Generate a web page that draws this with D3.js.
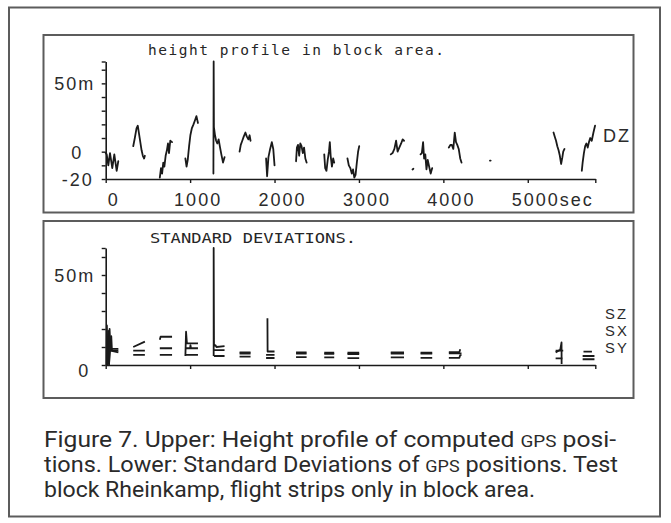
<!DOCTYPE html>
<html>
<head>
<meta charset="utf-8">
<script src="https://cdn.jsdelivr.net/npm/d3@7"></script>
<style>
  body { margin: 0; background: #fff; }
  svg { display: block; }
</style>
</head>
<body>
<svg id="fig" width="671" height="523"></svg>
<script>
// ---- data ----------------------------------------------------------------
const timeTicks = [0, 1000, 2000, 3000, 4000, 5000];
const timeTickLabels = ["0", "1000", "2000", "3000", "4000", "5000sec"];
const heightTicks = [-20, -10, 0, 10, 20, 30, 40, 50, 60, 66];
const heightTickLabels = { "-20": "-20", "0": "0", "50": "50m" };
const sdTicks = [0, 10, 20, 30, 40, 50, 60, 65];
const sdTickLabels = { "0": "0", "50": "50m" };

// height differences DZ [sec, m]; null separates flight strips
const dzProfile = [
  [0,-1],[12,-2],[31,-10],[51,-1],[78,-12],[102,-2],[130,-14],[149,-7], null,
  [326,4],[345,10],[365,17],[380,19],[395,13],[410,7],[425,1],[440,-3],[455,-5],[464,-3], null,
  [641,-19],[655,-12],[668,-16],[682,-8],[695,-11],[710,-3],[725,1],[738,6],[750,-1],[765,8],[786,7], null,
  [944,-5],[958,-11],[972,-6],[988,4],[1003,12],[1020,17],[1040,20],[1058,23],[1075,26],[1093,21], null,
  [1276,-16],[1279,66],[1282,18],[1295,12],[1308,8],[1322,6],[1338,9],[1355,3],[1370,-2],[1390,-8],[1408,-4], null,
  [1586,0],[1600,5],[1618,8],[1635,11],[1655,14],[1672,11],[1690,9],[1705,12],[1716,8], null,
  [1900,-5],[1912,-18],[1928,-4],[1948,2],[1968,7],[1985,2],[2000,-10], null,
  [2255,-7],[2265,3],[2278,5],[2292,-3],[2305,6],[2320,4],[2335,-1],[2350,3],[2365,-5],[2380,-8], null,
  [2589,-2],[2600,-12],[2615,-14],[2630,-6],[2645,0],[2655,7],[2665,-3],[2680,-11],[2695,-5],[2707,-8], null,
  [2864,-5],[2880,-10],[2898,-12],[2915,-16],[2930,-13],[2945,-19],[2960,-17],[2975,-8],[2990,0],[3003,4], null,
  [3377,-2],[3398,-1],[3420,2],[3440,8],[3458,0],[3478,3],[3500,6],[3518,9],[3534,8], null,
  [3635,-13],[3645,-12.5], null,
  [3730,-2],[3745,-1],[3760,7],[3772,-5],[3786,-2],[3800,-13],[3815,-6],[3832,-11],[3850,-16],[3868,-12], null,
  [4065,3],[4085,5],[4100,5],[4118,2],[4135,14],[4150,7],[4165,5],[4182,2],[4200,-5],[4215,-8], null,
  [4552,-6.5],[4560,-6.6], null,
  [5305,14],[5320,11],[5335,8],[5350,4],[5365,1],[5380,-3],[5395,-9],[5410,-4],[5420,0],[5435,2], null,
  [5640,-14],[5650,-8],[5665,-1],[5680,4],[5695,6],[5710,3],[5725,7],[5740,10],[5758,8],[5778,14],[5797,19]
];

// standard deviations [sec, m]
const szSeries = [
  [10,0],[14,22],[22,2],[46,20],[56,9],[150,9], null,
  [326,10],[464,13], null,
  [641,14],[650,15.7],[786,15.7], null,
  [944,5],[952,18.5],[962,12],[1093,12], null,
  [1279,5],[1279,65],[1283,10.5],[1300,11],[1312,10],[1408,10.5], null,
  [1586,7],[1716,7], null,
  [1916,26],[1918,7.5],[2000,7.5], null,
  [2255,7],[2380,7], null,
  [2589,6.8],[2707,6.8], null,
  [2864,6.8],[3003,6.8], null,
  [3377,7],[3534,7], null,
  [3730,6.9],[3868,6.9], null,
  [4065,7.2],[4190,7.2],[4200,8.8], null,
  [5330,7],[5385,8.5],[5400,12.5],[5401,0.5], null,
  [5660,7.4],[5760,7.4]
];
const sxSeries = [
  [24,0],[30,19],[40,1],[66,16],[74,8],[150,8], null,
  [326,8],[464,8], null,
  [641,9.3],[786,9.3], null,
  [944,9.3],[1000,9.3],[1004,11],[1010,9.3],[1093,9.3], null,
  [1282,8.3],[1408,8.3], null,
  [1586,6.4],[1716,6.4], null,
  [1900,5.6],[2000,5.6], null,
  [2255,6.3],[2380,6.3], null,
  [2589,6.2],[2707,6.2], null,
  [2864,6.1],[3003,6.1], null,
  [3377,6.4],[3534,6.4], null,
  [3730,6.3],[3868,6.3], null,
  [4065,6.5],[4215,6.5], null,
  [5330,8],[5420,8], null,
  [5650,5],[5790,5]
];
const sySeries = [
  [40,0],[46,16],[60,8],[150,7], null,
  [326,5.6],[464,5.6], null,
  [641,5.6],[786,5.6], null,
  [944,5.6],[1093,5.6], null,
  [1282,5],[1408,5], null,
  [1586,4.6],[1716,4.6], null,
  [1900,3.9],[2000,3.9], null,
  [2255,4.4],[2380,4.4], null,
  [2589,4.2],[2707,4.2], null,
  [2864,3.8],[3003,3.8], null,
  [3377,4.2],[3534,4.2], null,
  [3730,4.0],[3868,4.0], null,
  [4065,4],[4190,4],[4200,5.5],[4215,5.5], null,
  [5330,3.7],[5410,3.7], null,
  [5650,3.2],[5790,3.2]
];

const captionLines = [
  [["Figure 7. Upper: Height profile of computed ", false], ["GPS", true], [" posi-", false]],
  [["tions. Lower: Standard Deviations of ", false], ["GPS", true], [" positions. Test", false]],
  [["block Rheinkamp, flight strips only in block area.", false]]
];

// ---- drawing -------------------------------------------------------------
const svg = d3.select("#fig");
const ink = "#1a1a1a";
const frameColor = "#5c5c5c";
const plotFont = "'Liberation Sans', Arial, sans-serif";
const monoFont = "'DejaVu Sans Mono', monospace";

// outer frame and the two plot panels
svg.append("rect").attr("x", 9).attr("y", 7.5).attr("width", 651).attr("height", 509)
  .attr("fill", "none").attr("stroke", frameColor).attr("stroke-width", 2);
[[35, 212.5], [221, 398]].forEach(([top, bottom]) => {
  svg.append("rect").attr("x", 43.5).attr("y", top).attr("width", 590).attr("height", bottom - top)
    .attr("fill", "none").attr("stroke", frameColor).attr("stroke-width", 2);
});

const x = d3.scaleLinear().domain([0, 5800]).range([105.7, 595.3]);
const yTop = d3.scaleLinear().domain([-20, 66]).range([179, 61.5]);
const yBot = d3.scaleLinear().domain([0, 65]).range([365, 248]);

function styleAxis(g) {
  g.selectAll("path.domain").attr("stroke", ink).attr("stroke-width", 1.6);
  g.selectAll(".tick line").attr("stroke", ink).attr("stroke-width", 1.4);
  g.selectAll("text").attr("font-family", plotFont).attr("font-size", 18)
    .attr("letter-spacing", 2).attr("fill", "#2b2b2b");
}

function drawPanel(yScale, ticks, tickLabels, labelShift, zeroDy) {
  const gy = svg.append("g").attr("transform", `translate(${x(0)},0)`)
    .call(d3.axisLeft(yScale).tickValues(ticks).tickSize(4).tickSizeOuter(0)
      .tickFormat(d => tickLabels[d] || ""));
  styleAxis(gy);
  gy.selectAll(".tick text")
    .attr("x", d => labelShift[d] !== undefined ? labelShift[d] : -10)
    .attr("dy", d => d === 0 ? zeroDy : "0.36em");

  const gx = svg.append("g").attr("transform", `translate(0,${yScale.range()[0]})`)
    .call(d3.axisBottom(x).tickValues(timeTicks.concat([5800])).tickSize(4).tickSizeOuter(0)
      .tickFormat(""));
  styleAxis(gx);
  return gx;
}

// upper panel: height profile
drawPanel(yTop, heightTicks, heightTickLabels, { "50": -10.5, "0": -22.5, "-20": -12 }, "0.36em");
timeTicks.forEach((t, i) => {
  const lbl = timeTickLabels[i];
  const digits = lbl.replace("sec", "").length;
  svg.append("text")
    .attr("x", x(t) + 8 - digits * 12 / 2)
    .attr("y", 205.5)
    .attr("font-family", plotFont).attr("font-size", 18).attr("letter-spacing", 2)
    .attr("fill", "#2b2b2b")
    .text(lbl);
});

// lower panel: standard deviations
drawPanel(yBot, sdTicks, sdTickLabels, { "50": -10.5, "0": -15.5 }, "0.65em");

const lineTop = d3.line().defined(d => d !== null).x(d => x(d[0])).y(d => yTop(d[1]));
const lineBot = d3.line().defined(d => d !== null).x(d => x(d[0])).y(d => yBot(d[1]));

svg.append("path").attr("d", lineTop(dzProfile))
  .attr("fill", "none").attr("stroke", ink).attr("stroke-width", 1.8)
  .attr("stroke-linejoin", "round").attr("stroke-linecap", "round");

[szSeries, sxSeries, sySeries].forEach(series => {
  svg.append("path").attr("d", lineBot(series))
    .attr("fill", "none").attr("stroke", ink).attr("stroke-width", 1.8)
    .attr("stroke-linejoin", "round").attr("stroke-linecap", "butt");
});

// panel titles
svg.append("text").attr("x", 148).attr("y", 55)
  .attr("font-family", monoFont).attr("font-size", 14.5)
  .attr("textLength", 296).attr("lengthAdjust", "spacing")
  .attr("fill", "#262626").text("height profile in block area.");
svg.append("text").attr("x", 150).attr("y", 243)
  .attr("font-family", monoFont).attr("font-size", 14.5)
  .attr("textLength", 206).attr("lengthAdjust", "spacingAndGlyphs")
  .attr("fill", "#262626").text("STANDARD DEVIATIONS.");

// series names at the right end
svg.append("text").attr("x", 603).attr("y", 141.5)
  .attr("font-family", plotFont).attr("font-size", 18).attr("letter-spacing", 2)
  .attr("fill", "#2b2b2b").text("DZ");
[["SZ", 318.5], ["SX", 335.5], ["SY", 352.5]].forEach(([name, yy]) => {
  svg.append("text").attr("x", 605).attr("y", yy)
    .attr("font-family", plotFont).attr("font-size", 14.8).attr("letter-spacing", 2.2)
    .attr("fill", "#2b2b2b").text(name);
});

// caption
const captionWidths = [572, 574, 491];
captionLines.forEach((parts, i) => {
  const t = svg.append("text").attr("x", 44).attr("y", 447 + i * 25)
    .attr("font-family", "Roboto, 'Liberation Sans', sans-serif").attr("font-size", 21.5)
    .attr("fill", "#2a2a2a")
    .attr("textLength", captionWidths[i]).attr("lengthAdjust", "spacingAndGlyphs");
  parts.forEach(([s, small]) => {
    t.append("tspan").attr("font-size", small ? 16.5 : 21.5).text(s);
  });
});
</script>
</body>
</html>
